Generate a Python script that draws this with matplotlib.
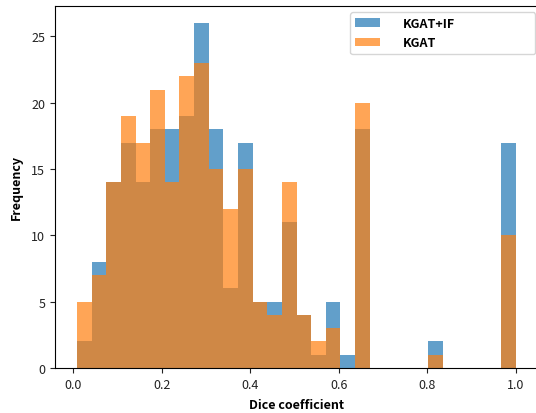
import numpy as np
import matplotlib
matplotlib.use("Agg")
import matplotlib.pyplot as plt

plt.rcParams['font.family'] = ['Noto Sans CJK JP', 'DejaVu Sans']

# Histogram data (30 equal-width bins between min and max Dice value)
dice_min = 0.0083
dice_max = 1.0
n_bins = 30
kgat_if_counts = [2, 8, 14, 17, 14, 18, 18, 19, 26, 18, 6, 17, 5, 5, 11,
                  4, 1, 5, 1, 18, 0, 0, 0, 0, 2, 0, 0, 0, 0, 17]
kgat_counts = [5, 7, 14, 19, 17, 21, 14, 22, 23, 15, 12, 15, 5, 4, 14,
               4, 2, 3, 0, 20, 0, 0, 0, 0, 1, 0, 0, 0, 0, 10]
labels = ["KGAT+IF", "KGAT"]
x_ticks = [0.0, 0.2, 0.4, 0.6, 0.8, 1.0]
y_ticks = [0, 5, 10, 15, 20, 25]

edges = np.linspace(dice_min, dice_max, n_bins + 1)
centers = (edges[:-1] + edges[1:]) / 2

fig = plt.figure(figsize=(5.36, 4.14), dpi=100)
ax = fig.add_axes([55 / 536, 45 / 414, 483 / 536, 362 / 414])

ax.hist(centers, bins=edges, weights=kgat_if_counts, alpha=0.7,
        histtype='stepfilled', color='#1f77b4', label=labels[0],
        linewidth=0, edgecolor='none')
ax.hist(centers, bins=edges, weights=kgat_counts, alpha=0.7,
        histtype='stepfilled', color='#ff7f0e', label=labels[1],
        linewidth=0, edgecolor='none')

ax.set_xticks(x_ticks)
ax.set_xticklabels([f"{v:.1f}" for v in x_ticks])
ax.set_yticks(y_ticks)
ax.tick_params(labelsize=9, colors='#222222')
ax.set_xlabel("Dice coefficient", fontsize=9, fontweight='bold', labelpad=5)
ax.set_ylabel("Frequency", fontsize=9, fontweight='bold', labelpad=6)

leg = ax.legend(loc='upper right', bbox_to_anchor=(0.611, 0.0, 0.383, 0.983),
                mode='expand', borderaxespad=0.0, handletextpad=1.8,
                prop={'size': 9, 'weight': 'bold'})

fig.savefig("out.png", dpi=100)
